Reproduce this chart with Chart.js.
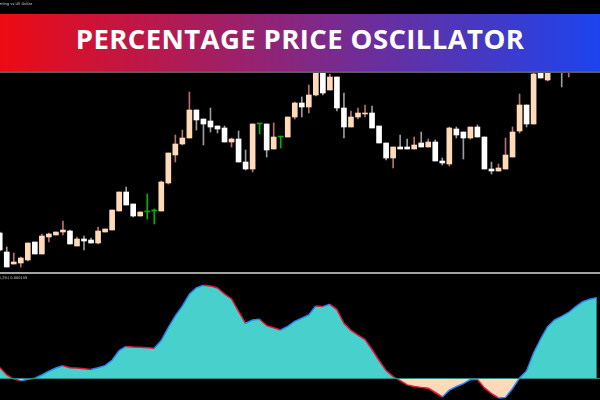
<!DOCTYPE html>
<html>
<head>
<meta charset="utf-8">
<title>Percentage Price Oscillator</title>
<script src="https://cdn.jsdelivr.net/npm/chart.js@4.4.1/dist/chart.umd.min.js"></script>
<style>
  html, body { margin: 0; padding: 0; background: #000; }
  #wrap { position: relative; width: 600px; height: 400px; overflow: hidden; background: #000; }
  #price-canvas { position: absolute; left: 0; top: 0; }
  #osc-canvas { position: absolute; left: 0; top: 274px; }
  .sep { position: absolute; left: 0; top: 272px; width: 600px; height: 2px; background: #a3a3a3; }
  .symbol { position: absolute; left: -17px; top: 2px; font: 3.6px "DejaVu Sans", sans-serif; color: #d0d0d0; white-space: nowrap; }
  .osc-label { position: absolute; left: -18px; top: 276px; font: 3.6px "DejaVu Sans", sans-serif; color: #d0d0d0; white-space: nowrap; }
  .banner {
    position: absolute; left: 0; top: 14px; width: 600px; height: 57px;
    background: linear-gradient(90deg, #ee0a14 0%, #1c44ee 100%);
    border-bottom: 2px solid #5c5c5c;
    display: flex; align-items: center; justify-content: center;
  }
  .banner span {
    font-family: "Open Sans", sans-serif; font-weight: 700; font-size: 27.5px;
    color: #fff; letter-spacing: 0.4px; margin-top: -9px;
  }
</style>
</head>
<body>
<div id="wrap">
  <canvas id="price-canvas" width="600" height="272"></canvas>
  <div class="sep"></div>
  <canvas id="osc-canvas" width="600" height="126"></canvas>
  <div class="symbol">Pound Sterling vs US Dollar</div>
  <div class="osc-label">PPO(12,26,2%) 0.000159</div>
  <div class="banner"><span>PERCENTAGE PRICE OSCILLATOR</span></div>
</div>
<script>
// GBPUSD bars, oldest first
const open = [
  1.3039, 1.3020, 1.3008, 1.3009, 1.3012, 1.3030, 1.3018, 1.3035, 1.3037, 1.3040,
  1.3041, 1.3026, 1.3033, 1.3032, 1.3029, 1.3040, 1.3042, 1.3061, 1.3080, 1.3068,
  1.3056, 1.3060, 1.3061, 1.3061, 1.3089, 1.3117, 1.3128, 1.3134, 1.3162, 1.3153,
  1.3151, 1.3146, 1.3144, 1.3130, 1.3133, 1.3110, 1.3103, 1.3148, 1.3148, 1.3123,
  1.3135, 1.3135, 1.3155, 1.3169, 1.3165, 1.3177, 1.3202, 1.3182, 1.3195, 1.3164,
  1.3145, 1.3155, 1.3158, 1.3159, 1.3146, 1.3129, 1.3114, 1.3125, 1.3125, 1.3123,
  1.3129, 1.3125, 1.3130, 1.3111, 1.3108, 1.3143, 1.3140, 1.3134, 1.3145, 1.3135,
  1.3103, 1.3101, 1.3103, 1.3115, 1.3141, 1.3167, 1.3148, 1.3206, 1.3192, 1.3208,
  1.3220, 1.3210, 1.3222, 1.3232, 1.3224, 1.3234
]
const high = [
  1.3040, 1.3025, 1.3019, 1.3015, 1.3029, 1.3030, 1.3038, 1.3039, 1.3040, 1.3051,
  1.3042, 1.3035, 1.3036, 1.3034, 1.3045, 1.3043, 1.3062, 1.3080, 1.3085, 1.3068,
  1.3060, 1.3078, 1.3063, 1.3091, 1.3119, 1.3137, 1.3142, 1.3180, 1.3162, 1.3153,
  1.3164, 1.3146, 1.3146, 1.3134, 1.3141, 1.3122, 1.3148, 1.3148, 1.3148, 1.3149,
  1.3135, 1.3155, 1.3170, 1.3175, 1.3187, 1.3204, 1.3204, 1.3198, 1.3195, 1.3179,
  1.3161, 1.3164, 1.3167, 1.3166, 1.3146, 1.3129, 1.3125, 1.3137, 1.3133, 1.3135,
  1.3140, 1.3133, 1.3132, 1.3114, 1.3145, 1.3145, 1.3140, 1.3145, 1.3147, 1.3135,
  1.3110, 1.3108, 1.3134, 1.3145, 1.3178, 1.3167, 1.3199, 1.3208, 1.3214, 1.3227,
  1.3224, 1.3228, 1.3236, 1.3238, 1.3242, 1.3246
]
const low = [
  1.3021, 1.3005, 1.3008, 1.3005, 1.3011, 1.3018, 1.3018, 1.3030, 1.3037, 1.3037,
  1.3028, 1.3026, 1.3022, 1.3029, 1.3028, 1.3040, 1.3042, 1.3061, 1.3067, 1.3055,
  1.3056, 1.3053, 1.3048, 1.3061, 1.3088, 1.3110, 1.3127, 1.3134, 1.3142, 1.3127,
  1.3140, 1.3139, 1.3130, 1.3125, 1.3110, 1.3102, 1.3100, 1.3138, 1.3115, 1.3123,
  1.3124, 1.3135, 1.3153, 1.3155, 1.3159, 1.3176, 1.3177, 1.3182, 1.3161, 1.3134,
  1.3145, 1.3153, 1.3155, 1.3144, 1.3129, 1.3112, 1.3104, 1.3123, 1.3123, 1.3123,
  1.3125, 1.3125, 1.3111, 1.3107, 1.3106, 1.3134, 1.3113, 1.3133, 1.3135, 1.3103,
  1.3098, 1.3101, 1.3103, 1.3115, 1.3139, 1.3145, 1.3148, 1.3194, 1.3191, 1.3206,
  1.3185, 1.3195, 1.3217, 1.3220, 1.3222, 1.3230
]
const close = [
  1.3022, 1.3005, 1.3010, 1.3014, 1.3029, 1.3018, 1.3036, 1.3038, 1.3040, 1.3042,
  1.3028, 1.3033, 1.3031, 1.3029, 1.3041, 1.3043, 1.3062, 1.3080, 1.3067, 1.3056,
  1.3060, 1.3060, 1.3061, 1.3090, 1.3119, 1.3128, 1.3134, 1.3162, 1.3152, 1.3148,
  1.3145, 1.3143, 1.3130, 1.3133, 1.3110, 1.3103, 1.3148, 1.3148, 1.3122, 1.3135,
  1.3135, 1.3155, 1.3169, 1.3165, 1.3177, 1.3202, 1.3179, 1.3195, 1.3164, 1.3145,
  1.3155, 1.3159, 1.3159, 1.3144, 1.3129, 1.3114, 1.3125, 1.3123, 1.3123, 1.3127,
  1.3125, 1.3130, 1.3111, 1.3109, 1.3144, 1.3137, 1.3134, 1.3145, 1.3135, 1.3103,
  1.3101, 1.3104, 1.3117, 1.3140, 1.3167, 1.3148, 1.3198, 1.3194, 1.3210, 1.3222,
  1.3210, 1.3224, 1.3232, 1.3224, 1.3236, 1.3242
]
// percentage price oscillator, one value per bar
const ppo = [
  0.106, 0.030, -0.011, -0.028, -0.013, -0.003, 0.030, 0.068, 0.100, 0.122,
  0.103, 0.099, 0.092, 0.084, 0.102, 0.124, 0.177, 0.274, 0.316, 0.310,
  0.308, 0.303, 0.298, 0.375, 0.503, 0.621, 0.718, 0.837, 0.902, 0.927,
  0.921, 0.900, 0.840, 0.790, 0.667, 0.547, 0.580, 0.587, 0.524, 0.503,
  0.480, 0.517, 0.567, 0.597, 0.630, 0.720, 0.714, 0.737, 0.684, 0.547,
  0.477, 0.428, 0.384, 0.285, 0.175, 0.075, 0.014, -0.027, -0.069, -0.084,
  -0.095, -0.103, -0.145, -0.190, -0.122, -0.085, -0.056, -0.016, -0.015, -0.099,
  -0.156, -0.200, -0.194, -0.105, -0.001, 0.071, 0.250, 0.390, 0.513, 0.582,
  0.617, 0.655, 0.713, 0.763, 0.788, 0.803
]

const BULL = "#ffdab9"
const BEAR = "#ffffff"
const DOJI = "#00b300"
const TEAL = "#48d1cc"
const PEACH = "#ffdab9"

const xRange = { type: "linear", display: false, offset: false, min: 0.04, max: 85.45 }

function candleColor(i) {
  if (open[i] === close[i]) return DOJI
  return close[i] > open[i] ? BULL : BEAR
}
function wickColor(i) {
  if (open[i] === close[i]) return DOJI
  return close[i] > open[i] ? "#b8706e" : "#9c9c9c"
}

document.addEventListener("DOMContentLoaded", () => {
  if (typeof Chart === "undefined") {
    console.error("Chart.js is not loaded")
    return
  }

  // Price chart (floating bars as candles)
  new Chart(document.getElementById("price-canvas"), {
    type: "bar",
    data: {
      datasets: [
        {
          label: "Body",
          data: open.map((o, i) => ({ x: i, y: [o, close[i]] })),
          backgroundColor: open.map((o, i) => candleColor(i)),
          barThickness: 5,
          minBarLength: 1,
          grouped: false,
          order: 0,
        },
        {
          label: "Wick",
          data: low.map((l, i) => ({ x: i, y: [l, high[i]] })),
          backgroundColor: low.map((l, i) => wickColor(i)),
          barThickness: 1,
          grouped: false,
          order: 1,
        },
      ],
    },
    options: {
      responsive: false,
      animation: false,
      devicePixelRatio: 1,
      layout: { padding: 0 },
      plugins: { legend: { display: false }, tooltip: { enabled: false } },
      scales: {
        x: xRange,
        y: { display: false, min: 1.3, max: 1.3272 },
      },
    },
  })

  // Oscillator panel
  const zeroLine = {
    id: "zeroLine",
    afterDatasetsDraw(chart) {
      const y = Math.round(chart.scales.y.getPixelForValue(0)) + 0.5
      const ctx = chart.ctx
      ctx.save()
      ctx.strokeStyle = "#2e8a80"
      ctx.lineWidth = 1
      ctx.beginPath()
      ctx.moveTo(0, y)
      ctx.lineTo(chart.width, y)
      ctx.stroke()
      ctx.restore()
    },
  }

  const ppoPoints = ppo.map((v, i) => ({ x: i, y: v }))

  new Chart(document.getElementById("osc-canvas"), {
    type: "line",
    data: {
      datasets: [
        {
          label: "PPO line",
          data: ppoPoints,
          borderWidth: 1.5,
          pointRadius: 0,
          tension: 0,
          fill: false,
          order: 0,
          segment: {
            borderColor: (ctx) => (ctx.p1.parsed.y >= ctx.p0.parsed.y ? "#1e8fff" : "#e0183c"),
          },
        },
        {
          label: "PPO area",
          data: ppoPoints,
          borderWidth: 0,
          borderColor: "rgba(0,0,0,0)",
          pointRadius: 0,
          tension: 0,
          fill: { target: "origin", above: TEAL, below: PEACH },
          order: 1,
        },
      ],
    },
    options: {
      responsive: false,
      animation: false,
      devicePixelRatio: 1,
      layout: { padding: 0 },
      plugins: { legend: { display: false }, tooltip: { enabled: false } },
      scales: {
        x: xRange,
        y: { display: false, min: -0.22, max: 1.04 },
      },
    },
    plugins: [zeroLine],
  })
})
</script>
</body>
</html>
